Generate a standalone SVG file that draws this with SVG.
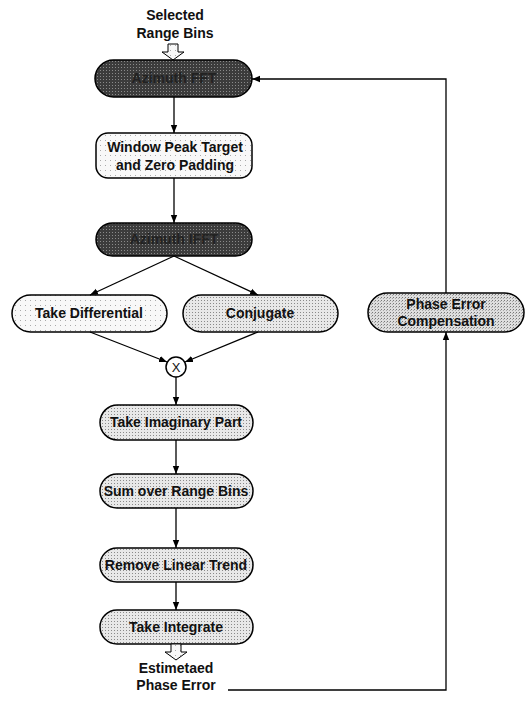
<svg xmlns="http://www.w3.org/2000/svg" width="526" height="705" viewBox="0 0 526 705">
<defs>
<pattern id="dots" width="3" height="3" patternUnits="userSpaceOnUse">
<rect width="3" height="3" fill="#e8e8e8"/>
<rect x="0" y="0" width="1" height="1" fill="#8a8a8a"/>
</pattern>
<pattern id="dotsd" width="3" height="3" patternUnits="userSpaceOnUse">
<rect width="3" height="3" fill="#dedede"/>
<rect x="0" y="0" width="1" height="1" fill="#777"/>
<rect x="2" y="1" width="1" height="1" fill="#a8a8a8"/>
</pattern>
<pattern id="sparse" width="5" height="5" patternUnits="userSpaceOnUse">
<rect width="5" height="5" fill="#f8f8f8"/>
<rect x="0" y="0" width="1" height="1" fill="#aaa"/>
</pattern>
<pattern id="dark" width="3" height="3" patternUnits="userSpaceOnUse">
<rect width="3" height="3" fill="#3c3c3c"/>
<rect x="1" y="1" width="1" height="1" fill="#8a8a8a"/>
</pattern>
<marker id="ah" viewBox="0 0 10 10" refX="10" refY="5" markerWidth="8" markerHeight="8" orient="auto" markerUnits="userSpaceOnUse">
<path d="M0,1 L10,5 L0,9 z" fill="#000"/>
</marker>
</defs>
<style>
.n{stroke:#000;stroke-width:1.5}
.t{font-family:"Liberation Sans",Arial,sans-serif;font-weight:bold;font-size:14px;fill:#111;text-anchor:middle}
.td{font-family:"Liberation Sans",Arial,sans-serif;font-weight:bold;font-size:14px;fill:#222;text-anchor:middle}
.c{fill:none;stroke:#000;stroke-width:1.3}
.ha{fill:url(#sparse);stroke:#000;stroke-width:1}
</style>

<g id="input">
<text class="t" x="175" y="20">Selected</text>
<text class="t" x="175" y="38">Range Bins</text>
<path class="ha" d="M168,44 L178,44 L178,52 L184,52 L173,60 L162,52 L168,52 z"/>
</g>

<g id="azimuth-fft">
<rect class="n" x="95" y="60" width="157" height="37" rx="18.5" fill="url(#dark)"/>
<text class="td" x="174" y="83">Azimuth FFT</text>
</g>

<g id="window">
<rect class="n" x="96" y="133" width="156" height="45" rx="12" fill="url(#sparse)"/>
<text class="t" x="175" y="152">Window Peak Target</text>
<text class="t" x="175" y="170">and Zero Padding</text>
</g>

<g id="azimuth-ifft">
<rect class="n" x="96" y="223" width="156" height="33" rx="16.5" fill="url(#dark)"/>
<text class="td" x="174" y="244">Azimuth IFFT</text>
</g>

<g id="take-differential">
<rect class="n" x="12" y="295" width="155" height="37" rx="18.5" fill="url(#sparse)"/>
<text class="t" x="89" y="318">Take Differential</text>
</g>

<g id="conjugate">
<rect class="n" x="183" y="295" width="155" height="37" rx="18.5" fill="url(#dots)"/>
<text class="t" x="260" y="318">Conjugate</text>
</g>

<g id="phase-error-compensation">
<rect class="n" x="368" y="293" width="156" height="39" rx="19.5" fill="url(#dotsd)"/>
<text class="t" x="446" y="309">Phase Error</text>
<text class="t" x="446" y="326">Compensation</text>
</g>

<g id="multiply">
<circle class="n" cx="176" cy="367" r="10" fill="#fff"/>
<text class="t" x="176" y="372" style="font-weight:normal;font-size:13px">X</text>
</g>

<g id="take-imaginary">
<rect class="n" x="100" y="405" width="153" height="35" rx="17.5" fill="url(#dots)"/>
<text class="t" x="176" y="427">Take Imaginary Part</text>
</g>

<g id="sum-range">
<rect class="n" x="100" y="474" width="153" height="34" rx="17" fill="url(#dots)"/>
<text class="t" x="176" y="496">Sum over Range Bins</text>
</g>

<g id="remove-trend">
<rect class="n" x="100" y="548" width="153" height="34" rx="17" fill="url(#dots)"/>
<text class="t" x="176" y="570">Remove Linear Trend</text>
</g>

<g id="take-integrate">
<rect class="n" x="100" y="610" width="153" height="34" rx="17" fill="url(#dots)"/>
<text class="t" x="176" y="632">Take Integrate</text>
</g>

<g id="output">
<path class="ha" d="M171,644 L181,644 L181,652 L187,652 L176,660 L165,652 L171,652 z"/>
<text class="t" x="176" y="673">Estimetaed</text>
<text class="t" x="176" y="690">Phase Error</text>
</g>

<g id="connectors">
<path class="c" d="M174,97 L174,133" marker-end="url(#ah)"/>
<path class="c" d="M174,178 L174,223" marker-end="url(#ah)"/>
<path class="c" d="M174,256 L90,295" marker-end="url(#ah)"/>
<path class="c" d="M174,256 L258,295" marker-end="url(#ah)"/>
<path class="c" d="M90,332 L167,362" marker-end="url(#ah)"/>
<path class="c" d="M258,332 L185,362" marker-end="url(#ah)"/>
<path class="c" d="M176,377 L176,405" marker-end="url(#ah)"/>
<path class="c" d="M176,440 L176,474" marker-end="url(#ah)"/>
<path class="c" d="M176,508 L176,548" marker-end="url(#ah)"/>
<path class="c" d="M176,582 L176,610" marker-end="url(#ah)"/>
<path class="c" d="M228,690 L446,690 L446,332" marker-end="url(#ah)"/>
<path class="c" d="M446,293 L446,79 L252,79" marker-end="url(#ah)"/>
</g>
</svg>
